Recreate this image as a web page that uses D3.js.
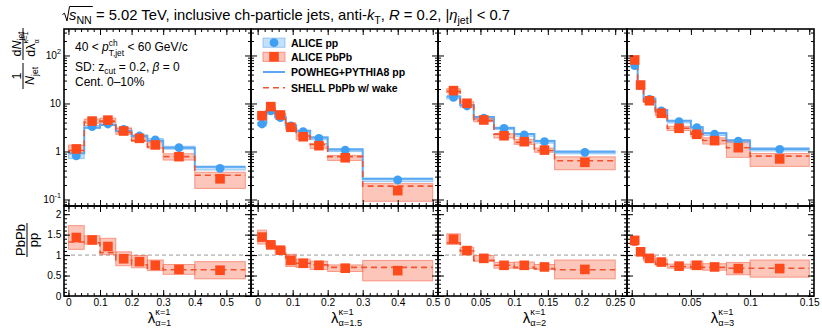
<!DOCTYPE html>
<html>
<head>
<meta charset="utf-8">
<script src="https://cdn.jsdelivr.net/npm/d3@7"></script>
<style>
  body { margin: 0; background: #fff; }
  svg { font-family: "Liberation Sans", Arial, Helvetica, sans-serif; }
  text { white-space: pre; }
</style>
</head>
<body>
<svg id="chart" width="822" height="329"></svg>
<script>
// ---- data (one sub-array per panel: alpha = 1, 1.5, 2, 3) ----
const alphas = ["1", "1.5", "2", "3"];
const binEdges = [
  [0, 0.05, 0.1, 0.15, 0.2, 0.25, 0.3, 0.4, 0.56],
  [0, 0.025, 0.05, 0.08, 0.11, 0.15, 0.2, 0.3, 0.5],
  [0, 0.02, 0.04, 0.07, 0.1, 0.13, 0.16, 0.25],
  [0, 0.005, 0.01, 0.02, 0.03, 0.05, 0.06, 0.08, 0.1, 0.15]
];
const xRanges = [[-0.014, 0.578], [-0.019, 0.515], [-0.013, 0.2675], [-0.004, 0.154]];
const xTickLabels = [
  [0, 0.1, 0.2, 0.3, 0.4, 0.5],
  [0, 0.1, 0.2, 0.3, 0.4, 0.5],
  [0, 0.05, 0.1, 0.15, 0.2, 0.25],
  [0, 0.05, 0.1, 0.15]
];
const xMinorStep = [0.02, 0.02, 0.01, 0.01];

const ppVals = [
  [0.81, 3.28, 3.74, 2.9, 2.1, 1.74, 1.2, 0.447],
  [3.74, 7.0, 5.06, 3.4, 2.59, 1.88, 1.07, 0.255],
  [13.4, 8.87, 4.92, 3.04, 2.21, 1.6, 0.96],
  [61.3, 24.2, 12.2, 7.0, 4.17, 3.13, 2.31, 1.65, 1.11]
];
const ppSysRel = [
  [0.12, 0.06, 0.06, 0.06, 0.06, 0.07, 0.07, 0.08],
  [0.08, 0.06, 0.06, 0.06, 0.06, 0.07, 0.07, 0.08],
  [0.07, 0.06, 0.06, 0.06, 0.06, 0.07, 0.07],
  [0.07, 0.06, 0.06, 0.06, 0.06, 0.06, 0.07, 0.07, 0.08]
];
const pbVals = [
  [1.13, 4.3, 4.5, 2.67, 1.88, 1.37, 0.78, 0.27],
  [5.57, 8.6, 5.76, 3.19, 2.03, 1.32, 0.74, 0.153],
  [18.5, 10.1, 4.53, 2.13, 1.6, 1.07, 0.595],
  [80.6, 24.2, 11.4, 6.25, 3.04, 2.28, 1.68, 1.2, 0.7]
];
const pbSysRel = [
  [0.2, 0.1, 0.1, 0.15, 0.14, 0.14, 0.15, 0.37],
  [0.12, 0.1, 0.08, 0.1, 0.12, 0.12, 0.12, 0.4],
  [0.1, 0.08, 0.08, 0.1, 0.12, 0.1, 0.3],
  [0.1, 0.08, 0.08, 0.1, 0.1, 0.12, 0.15, 0.37, 0.3]
];
const powhegVals = [
  [0.92, 3.13, 3.57, 2.67, 2.1, 1.68, 1.2, 0.48],
  [3.9, 7.0, 5.2, 3.5, 2.7, 1.95, 1.1, 0.27],
  [14, 9.2, 5.2, 3.1, 2.3, 1.65, 0.99],
  [60, 24, 12.5, 7.3, 4.38, 3.2, 2.4, 1.7, 1.13]
];
const shellVals = [
  [1.05, 4.1, 4.3, 2.5, 1.7, 1.25, 0.78, 0.32],
  [5.3, 8.7, 5.9, 3.3, 2.1, 1.4, 0.78, 0.19],
  [18, 9.8, 4.4, 2.3, 1.55, 1.05, 0.64],
  [80, 24, 11, 6, 3.04, 2.3, 1.7, 1.2, 0.8]
];
const ratioVals = [
  [1.43, 1.37, 1.21, 0.91, 0.84, 0.75, 0.65, 0.63],
  [1.44, 1.25, 1.12, 0.87, 0.8, 0.75, 0.68, 0.62],
  [1.39, 1.11, 0.92, 0.75, 0.75, 0.71, 0.65],
  [1.36, 1.08, 0.92, 0.83, 0.73, 0.75, 0.71, 0.67, 0.67]
];
const ratioSys = [
  [0.29, 0.1, 0.2, 0.17, 0.15, 0.13, 0.12, 0.21],
  [0.17, 0.08, 0.07, 0.15, 0.1, 0.1, 0.08, 0.25],
  [0.13, 0.08, 0.07, 0.07, 0.08, 0.06, 0.23],
  [0.08, 0.06, 0.06, 0.07, 0.05, 0.1, 0.08, 0.15, 0.21]
];
const shellRatio = [
  [1.32, 1.3, 1.06, 0.88, 0.76, 0.68, 0.64, 0.64],
  [1.35, 1.22, 1.1, 0.85, 0.8, 0.76, 0.7, 0.7],
  [1.3, 1.1, 0.87, 0.75, 0.7, 0.67, 0.64],
  [1.25, 1.05, 0.88, 0.78, 0.72, 0.7, 0.7, 0.68, 0.68]
];
const topRange = [0.0732, 356];
const topTicks = [0.1, 1, 10, 100];
const topTickLabels = [["10", "-1"], ["1", ""], ["10", ""], ["10", "2"]];
const ratioRange = [0, 2.2];
const ratioTicks = [0, 0.5, 1, 1.5, 2];
const legendLabels = ["ALICE pp", "ALICE PbPb", "POWHEG+PYTHIA8 pp", "SHELL PbPb w/ wake"];

// ---- layout / style ----
const panelLeft = [64, 251, 438, 627];
const panelRight = [251, 438, 627, 814];
const topY0 = 29, topY1 = 206, ratY0 = 206, ratY1 = 296;

const ppColor = "#3f9ff2";
const ppFill = "rgba(90,165,240,0.35)";
const ppStroke = "rgba(90,165,240,0.55)";
const pbColor = "#ff4a1c";
const pbFill = "rgba(250,105,75,0.38)";
const pbStroke = "rgba(245,110,85,0.65)";
const powhegColor = "#5aa9f2";
const shellColor = "#f2532e";

const svg = d3.select("#chart");
const defs = svg.append("defs");

// text with sub/superscripts laid out piece by piece
function rich(parent, x, y, size, parts) {
  const g = parent.append("g");
  let cursor = x, lastStart = x;
  parts.forEach(p => {
    const start = p.stack ? lastStart : cursor;
    const t = g.append("text")
      .attr("x", start)
      .attr("y", y + (p.dy || 0) * size)
      .attr("font-size", size * (p.s || 1))
      .attr("font-style", p.i ? "italic" : null)
      .attr("font-weight", p.b ? "bold" : null)
      .text(p.t);
    const w = t.node().getComputedTextLength();
    if (!p.stack) { lastStart = start; cursor = start + w; }
    else cursor = Math.max(cursor, start + w);
  });
  return { g, width: cursor - x };
}

function addAxis(axisFn, scale, major, minor, transform, fmt) {
  const gMin = svg.append("g").attr("transform", transform)
    .call(axisFn(scale).tickValues(minor).tickSize(-3).tickFormat(""));
  const gMaj = svg.append("g").attr("transform", transform)
    .call(axisFn(scale).tickValues(major).tickSize(-6).tickPadding(2.5).tickFormat(fmt || (() => "")));
  [gMin, gMaj].forEach(a => {
    a.select(".domain").remove();
    a.selectAll("line").attr("stroke", "#000").attr("stroke-width", 1);
    a.attr("font-family", null).attr("font-size", 10.2);
    a.selectAll("text").attr("fill", "#000");
  });
  return gMaj;
}

const logMinor = [];
for (let e = -2; e <= 2; e++) for (let m = 2; m <= 9; m++) {
  const v = m * Math.pow(10, e);
  if (v > topRange[0] && v < topRange[1]) logMinor.push(v);
}
const ratioMinor = d3.range(0, 22).map(k => +(k * 0.1).toFixed(2));

const yTop = d3.scaleLog().domain(topRange).range([topY1, topY0]);
const yRat = d3.scaleLinear().domain(ratioRange).range([ratY1, ratY0]);

const stepLine = (xs, ys) => d3.line().x(d => xs(d[0])).y(d => ys(d[1])).curve(d3.curveStepAfter);

alphas.forEach((alpha, i) => {
  const edges = binEdges[i];
  const x = d3.scaleLinear().domain(xRanges[i]).range([panelLeft[i], panelRight[i]]);
  const bins = d3.range(edges.length - 1).map(j => ({
    lo: edges[j], hi: edges[j + 1], mid: (edges[j] + edges[j + 1]) / 2,
    pp: ppVals[i][j], ppS: ppVals[i][j] * ppSysRel[i][j],
    pb: pbVals[i][j], pbS: pbVals[i][j] * pbSysRel[i][j],
    pw: powhegVals[i][j], sh: shellVals[i][j],
    r: ratioVals[i][j], rS: ratioSys[i][j], shr: shellRatio[i][j]
  }));

  // clip paths
  defs.append("clipPath").attr("id", "ct" + i).append("rect")
    .attr("x", panelLeft[i]).attr("y", topY0).attr("width", panelRight[i] - panelLeft[i]).attr("height", topY1 - topY0);
  defs.append("clipPath").attr("id", "cr" + i).append("rect")
    .attr("x", panelLeft[i]).attr("y", ratY0).attr("width", panelRight[i] - panelLeft[i]).attr("height", ratY1 - ratY0);

  // ---- top panel ----
  const gt = svg.append("g").attr("clip-path", `url(#ct${i})`);
  gt.selectAll(".pwband").data(bins).join("rect")
    .attr("x", d => x(d.lo)).attr("width", d => x(d.hi) - x(d.lo))
    .attr("y", d => yTop(d.pw * 1.04)).attr("height", d => yTop(d.pw * 0.96) - yTop(d.pw * 1.04))
    .attr("fill", "rgba(90,165,240,0.3)");
  gt.selectAll(".ppbox").data(bins).join("rect")
    .attr("x", d => x(d.lo)).attr("width", d => x(d.hi) - x(d.lo))
    .attr("y", d => yTop(d.pp + d.ppS)).attr("height", d => yTop(d.pp - d.ppS) - yTop(d.pp + d.ppS))
    .attr("fill", ppFill).attr("stroke", ppStroke).attr("stroke-width", 1);
  gt.selectAll(".pbbox").data(bins).join("rect")
    .attr("x", d => x(d.lo)).attr("width", d => x(d.hi) - x(d.lo))
    .attr("y", d => yTop(d.pb + d.pbS)).attr("height", d => yTop(d.pb - d.pbS) - yTop(d.pb + d.pbS))
    .attr("fill", pbFill).attr("stroke", pbStroke).attr("stroke-width", 1);

  const pwPts = bins.map(d => [d.lo, d.pw]).concat([[edges[edges.length - 1], bins[bins.length - 1].pw]]);
  gt.append("path").attr("d", stepLine(x, yTop)(pwPts))
    .attr("fill", "none").attr("stroke", powhegColor).attr("stroke-width", 2);
  const shPts = bins.map(d => [d.lo, d.sh]).concat([[edges[edges.length - 1], bins[bins.length - 1].sh]]);
  gt.append("path").attr("d", stepLine(x, yTop)(shPts))
    .attr("fill", "none").attr("stroke", shellColor).attr("stroke-width", 1.6).attr("stroke-dasharray", "6,4");

  gt.selectAll(".ppm").data(bins).join("circle")
    .attr("cx", d => x(d.mid)).attr("cy", d => yTop(d.pp)).attr("r", 4.4).attr("fill", ppColor);
  gt.selectAll(".pbm").data(bins).join("rect")
    .attr("x", d => x(d.mid) - 4.8).attr("y", d => yTop(d.pb) - 4.8)
    .attr("width", 9.6).attr("height", 9.6).attr("fill", pbColor);

  // ---- ratio panel ----
  const gr = svg.append("g").attr("clip-path", `url(#cr${i})`);
  gr.append("line")
    .attr("x1", panelLeft[i]).attr("x2", panelRight[i])
    .attr("y1", yRat(1)).attr("y2", yRat(1))
    .attr("stroke", "#999").attr("stroke-width", 1).attr("stroke-dasharray", "4,3");
  gr.selectAll(".rbox").data(bins).join("rect")
    .attr("x", d => x(d.lo)).attr("width", d => x(d.hi) - x(d.lo))
    .attr("y", d => yRat(d.r + d.rS)).attr("height", d => yRat(d.r - d.rS) - yRat(d.r + d.rS))
    .attr("fill", pbFill).attr("stroke", pbStroke).attr("stroke-width", 1);
  const shrPts = bins.map(d => [d.lo, d.shr]).concat([[edges[edges.length - 1], bins[bins.length - 1].shr]]);
  gr.append("path").attr("d", stepLine(x, yRat)(shrPts))
    .attr("fill", "none").attr("stroke", shellColor).attr("stroke-width", 1.6).attr("stroke-dasharray", "6,4");
  gr.selectAll(".rm").data(bins).join("rect")
    .attr("x", d => x(d.mid) - 4.8).attr("y", d => yRat(d.r) - 4.8)
    .attr("width", 9.6).attr("height", 9.6).attr("fill", pbColor);

  // ---- ticks ----
  const xMajor = xTickLabels[i];
  const xMinor = d3.range(0, 60).map(k => +(k * xMinorStep[i]).toFixed(4))
    .filter(v => v > xRanges[i][0] && v < xRanges[i][1]);
  addAxis(d3.axisTop, x, xMajor, xMinor, `translate(0,${topY0})`);
  addAxis(d3.axisBottom, x, xMajor, xMinor, `translate(0,${topY1})`);
  addAxis(d3.axisTop, x, xMajor, xMinor, `translate(0,${ratY0})`);
  addAxis(d3.axisBottom, x, xMajor, xMinor, `translate(0,${ratY1})`, d => d3.format("")(d));

  addAxis(d3.axisLeft, yTop, topTicks, logMinor, `translate(${panelLeft[i]},0)`);
  addAxis(d3.axisRight, yTop, topTicks, logMinor, `translate(${panelRight[i]},0)`);
  addAxis(d3.axisLeft, yRat, ratioTicks, ratioMinor, `translate(${panelLeft[i]},0)`, i === 0 ? (d => d3.format("")(d)) : null);
  addAxis(d3.axisRight, yRat, ratioTicks, ratioMinor, `translate(${panelRight[i]},0)`);

  // frames
  svg.append("rect").attr("x", panelLeft[i]).attr("y", topY0)
    .attr("width", panelRight[i] - panelLeft[i]).attr("height", topY1 - topY0)
    .attr("fill", "none").attr("stroke", "#000").attr("stroke-width", 1.6);
  svg.append("rect").attr("x", panelLeft[i]).attr("y", ratY0)
    .attr("width", panelRight[i] - panelLeft[i]).attr("height", ratY1 - ratY0)
    .attr("fill", "none").attr("stroke", "#000").attr("stroke-width", 1.6);

  // x-axis title
  const xt = rich(svg, 0, 322.5, 15, [
    { t: "λ" },
    { t: "κ=1", s: 0.62, dy: -0.5 },
    { t: "α=" + alpha, s: 0.62, dy: 0.25, stack: true }
  ]);
  xt.g.attr("transform", `translate(${(panelLeft[i] + panelRight[i]) / 2 - xt.width / 2 + 2},0)`);
});

// ---- title ----
const sq = rich(svg, 69, 20, 14.8, [{ t: "s", i: true }, { t: "NN", s: 0.72, dy: 0.28 }]);
svg.append("path")
  .attr("d", `M62.5,14.5 L64.5,13.2 L67,21 L69.5,6.5 L${69 + sq.width + 1},6.5`)
  .attr("fill", "none").attr("stroke", "#000").attr("stroke-width", 1);
rich(svg, 69 + sq.width, 20, 14.8, [
  { t: " = 5.02 TeV, inclusive ch-particle jets, anti-" },
  { t: "k", i: true }, { t: "T", s: 0.72, dy: 0.28 },
  { t: ", " }, { t: "R", i: true }, { t: " = 0.2, |" },
  { t: "η", i: true }, { t: "jet", s: 0.72, dy: 0.28 }, { t: "| < 0.7" }
]);

// ---- panel 1 annotations ----
rich(svg, 75, 51, 12, [
  { t: "40 < " }, { t: "p", i: true },
  { t: "ch", s: 0.7, dy: -0.42 }, { t: "T,jet", s: 0.7, dy: 0.38, stack: true },
  { t: " < 60 GeV/c" }
]);
rich(svg, 75, 70.5, 12, [
  { t: "SD: z" }, { t: "cut", s: 0.7, dy: 0.3 }, { t: " = 0.2, " }, { t: "β", i: true }, { t: " = 0" }
]);
rich(svg, 75, 86, 12, [{ t: "Cent. 0–10%" }]);

// ---- legend ----
const legX = 263, legW = 22, legTextX = 291;
const legY = [42.7, 56.8, 72, 87.7];
const leg = svg.append("g");
leg.append("rect").attr("x", legX).attr("y", legY[0] - 4.6).attr("width", legW).attr("height", 9.2)
  .attr("fill", ppFill).attr("stroke", ppStroke);
leg.append("circle").attr("cx", legX + legW / 2).attr("cy", legY[0]).attr("r", 4.4).attr("fill", ppColor);
leg.append("rect").attr("x", legX).attr("y", legY[1] - 4.6).attr("width", legW).attr("height", 9.2)
  .attr("fill", pbFill).attr("stroke", pbStroke);
leg.append("rect").attr("x", legX + legW / 2 - 4.8).attr("y", legY[1] - 4.8).attr("width", 9.6).attr("height", 9.6).attr("fill", pbColor);
leg.append("line").attr("x1", legX).attr("x2", legX + legW).attr("y1", legY[2]).attr("y2", legY[2])
  .attr("stroke", powhegColor).attr("stroke-width", 2);
leg.append("line").attr("x1", legX).attr("x2", legX + legW).attr("y1", legY[3]).attr("y2", legY[3])
  .attr("stroke", shellColor).attr("stroke-width", 1.6).attr("stroke-dasharray", "6,4");
leg.selectAll(".lt").data(legendLabels).join("text")
  .attr("x", legTextX).attr("y", (d, k) => legY[k] + 4)
  .attr("font-size", 10.5).attr("font-weight", "bold").text(d => d);

// ---- y-axis titles (rotated) ----
function vtext(cx, cy, size, parts) {
  // parts laid out along the rotated baseline, centred on (cx, cy)
  const g = svg.append("g");
  const r = rich(g, 0, 0, size, parts);
  r.g.attr("transform", `translate(${-r.width / 2},0)`);
  g.attr("transform", `translate(${cx},${cy}) rotate(-90)`);
  return g;
}
// 1/N_jet
vtext(20.5, 76, 12.5, [{ t: "1" }]);
vtext(34, 76, 12.5, [{ t: "N", i: true }, { t: "jet", s: 0.68, dy: 0.3 }]);
svg.append("line").attr("x1", 23).attr("x2", 23).attr("y1", 63).attr("y2", 89).attr("stroke", "#000");
// dN_jet / dλ
vtext(20.5, 44, 12.5, [{ t: "d" }, { t: "N", i: true }, { t: "jet", s: 0.68, dy: 0.3 }]);
vtext(35, 44, 12.5, [{ t: "dλ" }, { t: "κ=1", s: 0.6, dy: -0.55 }, { t: "α", s: 0.6, dy: 0.3, stack: true }]);
svg.append("line").attr("x1", 23).attr("x2", 23).attr("y1", 28).attr("y2", 60).attr("stroke", "#000");
// PbPb / pp
vtext(24.5, 240, 13, [{ t: "PbPb" }]);
vtext(37.5, 240, 13, [{ t: "pp" }]);
svg.append("line").attr("x1", 27).attr("x2", 27).attr("y1", 223).attr("y2", 257).attr("stroke", "#000");

// ---- log-axis tick labels (panel 1) ----
topTicks.forEach((v, k) => {
  const t = svg.append("text")
    .attr("x", panelLeft[0] - 3).attr("y", yTop(v) + 3.6)
    .attr("text-anchor", "end").attr("font-size", 10.2).attr("fill", "#000");
  t.append("tspan").text(topTickLabels[k][0]);
  if (topTickLabels[k][1]) t.append("tspan").attr("font-size", 7.2).attr("dy", -5).text(topTickLabels[k][1]);
});
</script>
</body>
</html>
